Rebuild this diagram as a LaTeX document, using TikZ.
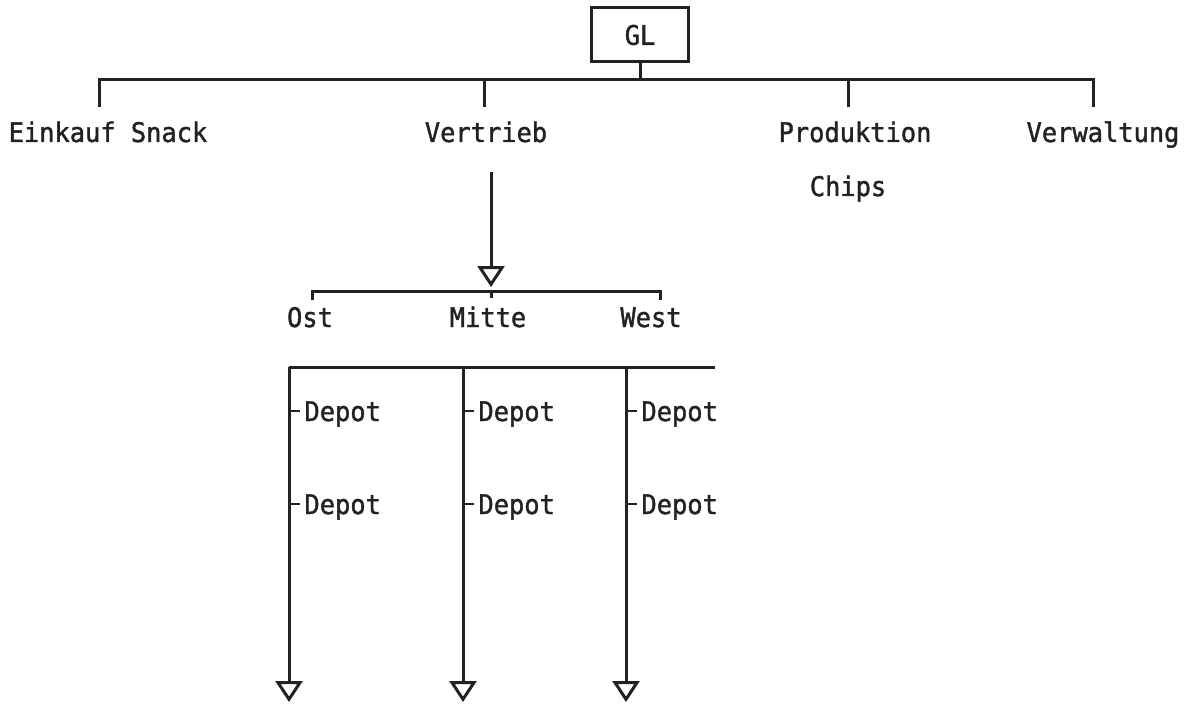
\documentclass[tikz,border=0pt]{standalone}
\usepackage{fontspec}
\setmonofont[FakeStretch=0.94,FakeBold=1.4]{DejaVu Sans Mono}
\usetikzlibrary{arrows.meta}
\definecolor{ink}{RGB}{34,34,34}
\begin{document}
\begin{tikzpicture}[x=1pt,y=-1pt,line width=3pt,draw=ink,
  lbl/.style={font=\ttfamily\fontsize{27}{32}\selectfont,text=ink,inner sep=0pt,anchor=base},
  headbox/.style={draw=ink,line width=3pt,inner sep=0pt,minimum width=97pt,minimum height=54pt,
    font=\ttfamily\fontsize{27}{32}\selectfont,text=ink},
  tri/.style={-{Triangle[open,width=27pt,length=21pt,line width=3pt]}},
  ticklet/.style={line width=2.5pt}]
\useasboundingbox (0,0) rectangle (1189,706);

% head of the organisation
\node[headbox] (gl) at (640,35) {GL};

% first level
\node[lbl] (einkauf) at (108,142) {Einkauf Snack};
\node[lbl] (vertrieb) at (486,142) {Vertrieb};
\node[lbl] (produktion) at (855,142) {Produktion};
\node[lbl] (chips) at (848,196) {Chips};
\node[lbl] (verwaltung) at (1103,142) {Verwaltung};

\coordinate (barL) at (99,80);
\coordinate (barR) at (1093,80);
\coordinate (tE) at (99,107);
\coordinate (tV) at (484,107);
\coordinate (tP) at (848,107);
\coordinate (tW) at (1093,107);

\draw (tE) -- (barL) -- (barR) -- (tW);
\draw (gl.south) -- (gl.south |- barL);
\draw (tV |- barL) -- (tV);
\draw (tP |- barL) -- (tP);

% regions under Vertrieb
\coordinate (vs) at (491,172);
\coordinate (ve) at (491,287);
\draw[tri] (vs) -- (ve);

\node[lbl] (ost) at (310,327) {Ost};
\node[lbl] (mitte) at (488,327) {Mitte};
\node[lbl] (west) at (651,327) {West};

\coordinate (rL) at (312,291);
\coordinate (rR) at (660,291);
\draw (312,300) -- (rL) -- (rR) -- (660,300);
\draw (ve |- rL) -- (491,298);

% depot columns
\coordinate (dL) at (289,367);
\coordinate (dR) at (715,367);
\draw (dL) -- (dR);

\foreach \x/\n in {289/a,463/b,626/c}{
  \coordinate (top\n) at (\x,367);
  \coordinate (end\n) at (\x,702);
  \draw[tri] (top\n) -- (end\n);
  \node[lbl,anchor=base west] (d1\n) at (\x+14,421) {Depot};
  \node[lbl,anchor=base west] (d2\n) at (\x+14,514) {Depot};
  \draw[ticklet] (\x,411) -- (\x+11,411);
  \draw[ticklet] (\x,504) -- (\x+11,504);
}
\end{tikzpicture}
\end{document}
